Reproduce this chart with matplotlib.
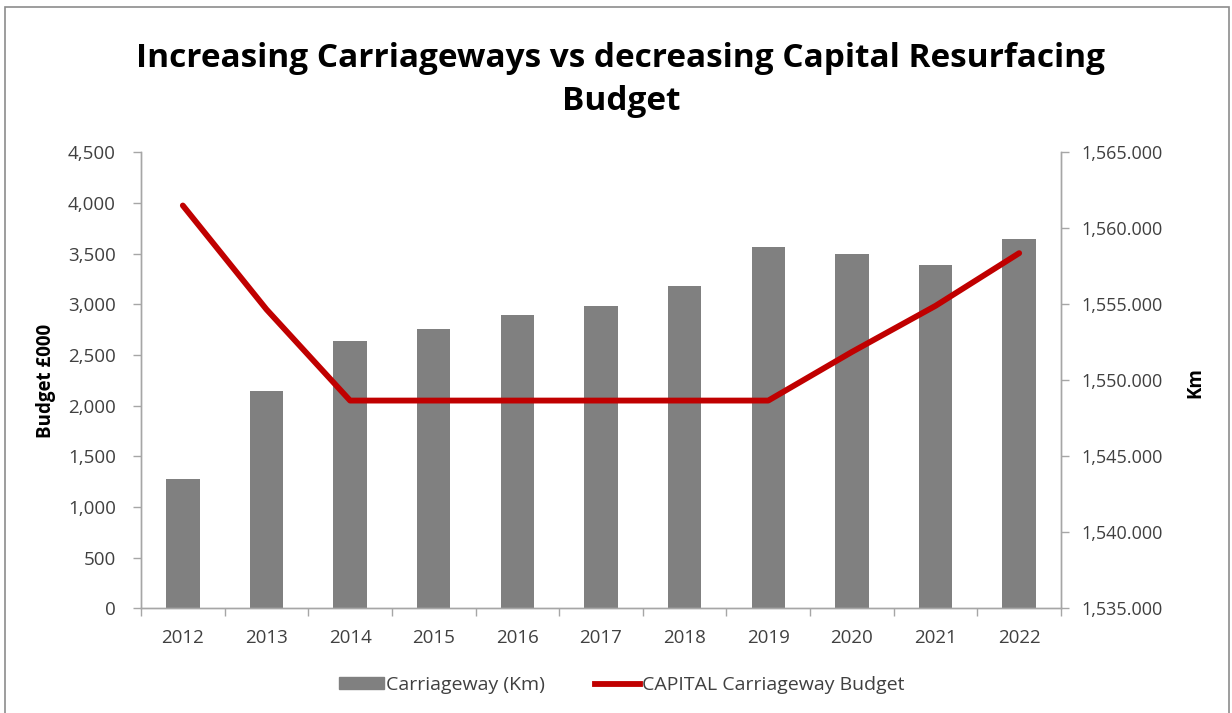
import matplotlib
matplotlib.use("Agg")
import matplotlib.pyplot as plt
from matplotlib.ticker import FuncFormatter, MultipleLocator
from matplotlib.patches import Rectangle
from matplotlib.lines import Line2D
import numpy as np

years = ["2012", "2013", "2014", "2015", "2016", "2017", "2018", "2019", "2020", "2021", "2022"]
carriageway_km = [1543.5, 1549.3, 1552.6, 1553.4, 1554.3, 1554.9, 1556.2, 1558.8, 1558.3, 1557.6, 1559.3]
capital_budget = [3975, 2950, 2050, 2050, 2050, 2050, 2050, 2050, 2530, 2985, 3505]

plt.rcParams["font.family"] = ["Open Sans", "DejaVu Sans"]

W, H = 1232, 713
fig = plt.figure(figsize=(W / 100, H / 100), dpi=100)

left, right, top, bottom = 141, 1061, 152.3, 608.3
ax = fig.add_axes([left / W, 1 - bottom / H, (right - left) / W, (bottom - top) / H])
ax2 = ax.twinx()

spine_col = "#a6a6a6"
text_col = "#404040"
x = np.arange(len(years))

# Carriageway length bars on the right-hand km axis, drawn behind the budget line
bars = ax2.bar(x, carriageway_km, width=0.4, color="#808080", zorder=2)
ax2.set_ylim(1535, 1565)
ax2.yaxis.set_major_locator(MultipleLocator(5))
ax2.yaxis.set_major_formatter(FuncFormatter(lambda v, p: f"{v:,.3f}"))

# Budget line on the left-hand axis
line, = ax.plot(x, capital_budget, color="#c00000", lw=4.2, solid_joinstyle="round",
                solid_capstyle="round", zorder=3)
ax.set_ylim(0, 4500)
ax.yaxis.set_major_locator(MultipleLocator(500))
ax.yaxis.set_major_formatter(FuncFormatter(lambda v, p: f"{v:,.0f}"))

ax.set_zorder(ax2.get_zorder() + 1)
ax.patch.set_visible(False)

ax.set_xlim(-0.5, len(years) - 0.5)
ax.set_xticks(x)
ax.set_xticklabels(years)
ax.set_xticks(np.arange(-0.5, len(years)), minor=True)
ax.tick_params(axis="x", which="major", length=0, pad=15, labelsize=13.5, labelcolor=text_col)
ax.tick_params(axis="x", which="minor", length=6, color=spine_col, width=1)
ax.tick_params(axis="y", length=6, color=spine_col, width=1, pad=12, labelsize=13.5, labelcolor=text_col)
ax2.tick_params(axis="y", length=6, color=spine_col, width=1, pad=9, labelsize=13, labelcolor=text_col)

for a in (ax, ax2):
    a.spines["top"].set_visible(False)
    for s in ("left", "right", "bottom"):
        a.spines[s].set_color(spine_col)
        a.spines[s].set_linewidth(1)

fig.text(46 / W, 1 - 381 / H, "Budget £000", rotation=90, ha="center", va="center",
         fontsize=13.5, fontweight="bold", color="black")
fig.text(1195 / W, 1 - 383 / H, "Km", rotation=90, ha="center", va="center",
         fontsize=13.5, fontweight="bold", color="black")

fig.text(621 / W, 1 - 80 / H, "Increasing Carriageways vs decreasing Capital Resurfacing\nBudget",
         ha="center", va="center", fontsize=24, fontweight="bold", color="black",
         linespacing=1.42)

handles = [Rectangle((0, 0), 1, 1, color="#808080"),
           Line2D([0], [0], color="#c00000", lw=4.2)]
fig.legend(handles, ["Carriageway (Km)", "CAPITAL Carriageway Budget"], ncol=2,
           loc="center", bbox_to_anchor=(622 / W, 1 - 685 / H), frameon=False,
           fontsize=14, labelcolor=text_col, handlelength=2.3, handleheight=0.55,
           columnspacing=2.6, handletextpad=0.1)

# Outer chart border
fig.add_artist(Rectangle((5 / W, -0.02), (1229 - 5) / W, 1 - 7 / H + 0.02,
                         transform=fig.transFigure, fill=False, edgecolor="#8c8c8c", lw=1.2))

fig.savefig("out.png", dpi=100)
